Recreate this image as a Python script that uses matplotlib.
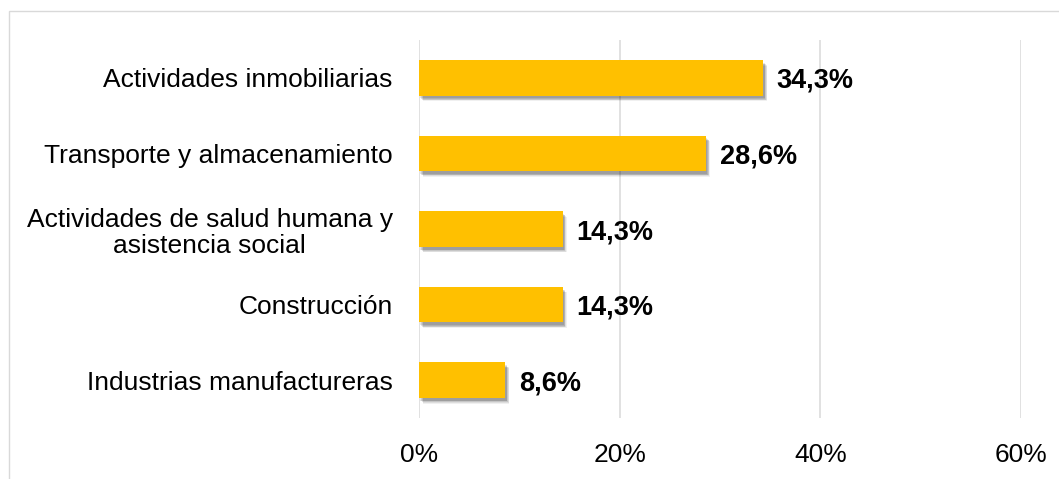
# Barras horizontales: distribución por actividad económica

import matplotlib
matplotlib.use("Agg")
import matplotlib.pyplot as plt
import matplotlib.patheffects as pe
from matplotlib.patches import Rectangle
from matplotlib.ticker import FuncFormatter

plt.rcParams["font.family"] = ["Liberation Sans", "DejaVu Sans"]

# --------------------------------------------------
# datos

categorias = [
    "Actividades inmobiliarias",
    "Transporte y almacenamiento",
    "Actividades de salud humana y\nasistencia social",
    "Construcción",
    "Industrias manufactureras",
]
valores = [0.343, 0.286, 0.143, 0.143, 0.086]
ticks_x = [0, 0.2, 0.4, 0.6]

# --------------------------------------------------
# gráfico

fig = plt.figure(figsize=(10.59, 4.79), dpi=100)
ax = fig.add_axes([0.3957, 0.1273, 0.5684, 0.7892])

# marco exterior del gráfico
fig.patches.append(Rectangle((9 / 1059, -0.2), 1.2, 1.2 - 11 / 479,
                             transform=fig.transFigure, fill=False,
                             edgecolor="#d9d9d9", linewidth=1.0))

# sombra difusa (varias capas suaves)
sombra = [pe.SimplePatchShadow(offset=(dx, dy), shadow_rgbFace="k", alpha=a)
          for dx, dy, a in [(3, -4, 0.06), (2.5, -3.5, 0.08), (2, -3, 0.1),
                            (1.5, -2.5, 0.1), (1, -2, 0.1)]]

pos = list(range(len(categorias)))
barras = ax.barh(pos, valores, height=0.47, color="#FFC000", zorder=3)
for b in barras:
    b.set_path_effects(sombra + [pe.Normal()])

for p, v in zip(pos, valores):
    ax.text(v + 0.0135, p + 0.04, f"{v * 100:.1f}%".replace(".", ","),
            va="center", ha="left", fontsize=19.5, fontweight="bold", zorder=4)

ax.set_yticks(pos)
ax.set_yticklabels(categorias, fontsize=19, linespacing=1.15)
for lbl in ax.get_yticklabels():
    lbl.set_multialignment("center")
ax.set_ylim(len(categorias) - 0.5, -0.5)

ax.set_xlim(0, 0.6)
ax.set_xticks(ticks_x)
ax.xaxis.set_major_formatter(FuncFormatter(lambda x, _: f"{x * 100:.0f}%"))
ax.tick_params(axis="x", labelsize=19, length=0, pad=18)
ax.tick_params(axis="y", length=0, pad=19)

ax.grid(axis="x", color="#d9d9d9", linewidth=1.1, zorder=0)
for s in ax.spines.values():
    s.set_visible(False)

fig.savefig("out.png", dpi=100)
